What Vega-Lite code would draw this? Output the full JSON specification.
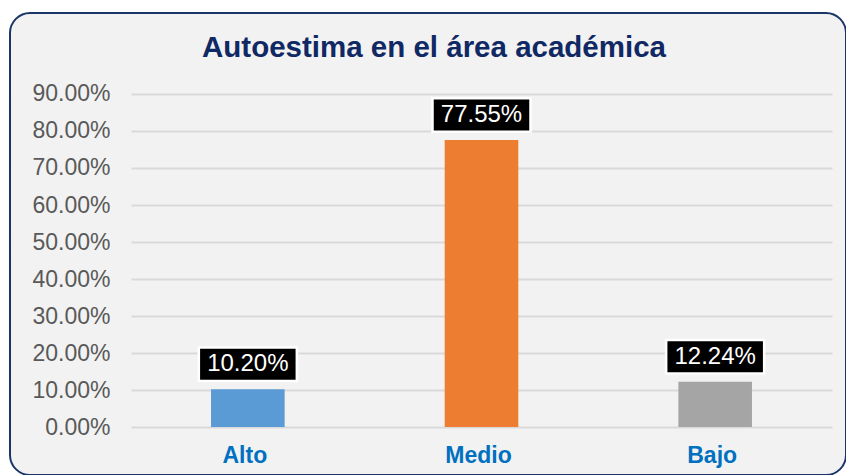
{
  "$schema": "https://vega.github.io/schema/vega-lite/v6.json",
  "width": 836,
  "height": 462,
  "autosize": {"type": "none"},
  "padding": {"left": 10, "top": 13, "right": 0, "bottom": 0},
  "background": "white",
  "config": {
    "view": {"fill": "#F2F2F2", "stroke": "#1B3568", "strokeWidth": 2, "cornerRadius": 20},
    "font": "Liberation Sans"
  },
  "title": {
    "text": "Autoestima en el área académica",
    "fontSize": 29.5,
    "fontWeight": "bold",
    "color": "#102864",
    "anchor": "middle",
    "frame": "group",
    "offset": -50,
    "dx": 6,
    "font": "Liberation Sans"
  },
  "data": {
    "values": [
      {"nivel": "Alto", "pct": 0.102},
      {"nivel": "Medio", "pct": 0.7755},
      {"nivel": "Bajo", "pct": 0.1224}
    ]
  },
  "encoding": {
    "x": {
      "field": "nivel",
      "type": "nominal",
      "sort": ["Alto", "Medio", "Bajo"],
      "scale": {"range": [121, 822], "paddingInner": 0, "paddingOuter": 0},
      "axis": {
        "orient": "bottom",
        "offset": -20,
        "labelPadding": 0,
        "ticks": false,
        "domain": false,
        "grid": false,
        "labelFontSize": 23,
        "labelFontWeight": "bold",
        "labelColor": "#0070C0",
        "labelBaseline": "middle",
        "labelAngle": 0,
        "labelFont": "Liberation Sans",
        "labelOffset": -3,
        "title": null
      }
    },
    "y": {
      "field": "pct",
      "type": "quantitative",
      "scale": {"domain": [-0.1297, 1.1189], "nice": false, "zero": false},
      "axis": {
        "values": [0, 0.1, 0.2, 0.3, 0.4, 0.5, 0.6, 0.7, 0.8, 0.9],
        "format": ".2%",
        "offset": -105,
        "labelPadding": 5,
        "ticks": false,
        "domain": false,
        "labelFontSize": 23,
        "labelColor": "#595959",
        "labelFont": "Liberation Sans",
        "labelBaseline": "middle",
        "gridColor": "#D9D9D9",
        "gridWidth": 2,
        "title": null
      }
    }
  },
  "layer": [
    {
      "mark": {"type": "bar", "width": {"band": 0.315}},
      "encoding": {
        "y2": {"datum": 0},
        "color": {
          "field": "nivel",
          "type": "nominal",
          "scale": {"domain": ["Alto", "Medio", "Bajo"], "range": ["#5B9BD5", "#ED7D31", "#A5A5A5"]},
          "legend": null
        }
      }
    },
    {
      "mark": {
        "type": "point",
        "shape": "M-0.98,-0.335H0.98V0.335H-0.98Z",
        "size": 10000,
        "filled": true,
        "fill": "black",
        "stroke": "white",
        "strokeWidth": 2.5,
        "opacity": 1,
        "fillOpacity": 1,
        "strokeOpacity": 1,
        "yOffset": -25
      }
    },
    {
      "mark": {
        "type": "text",
        "color": "white",
        "fontSize": 24,
        "font": "Liberation Sans",
        "yOffset": -25,
        "baseline": "middle"
      },
      "encoding": {
        "text": {"field": "pct", "type": "quantitative", "format": ".2%"}
      }
    }
  ]
}
